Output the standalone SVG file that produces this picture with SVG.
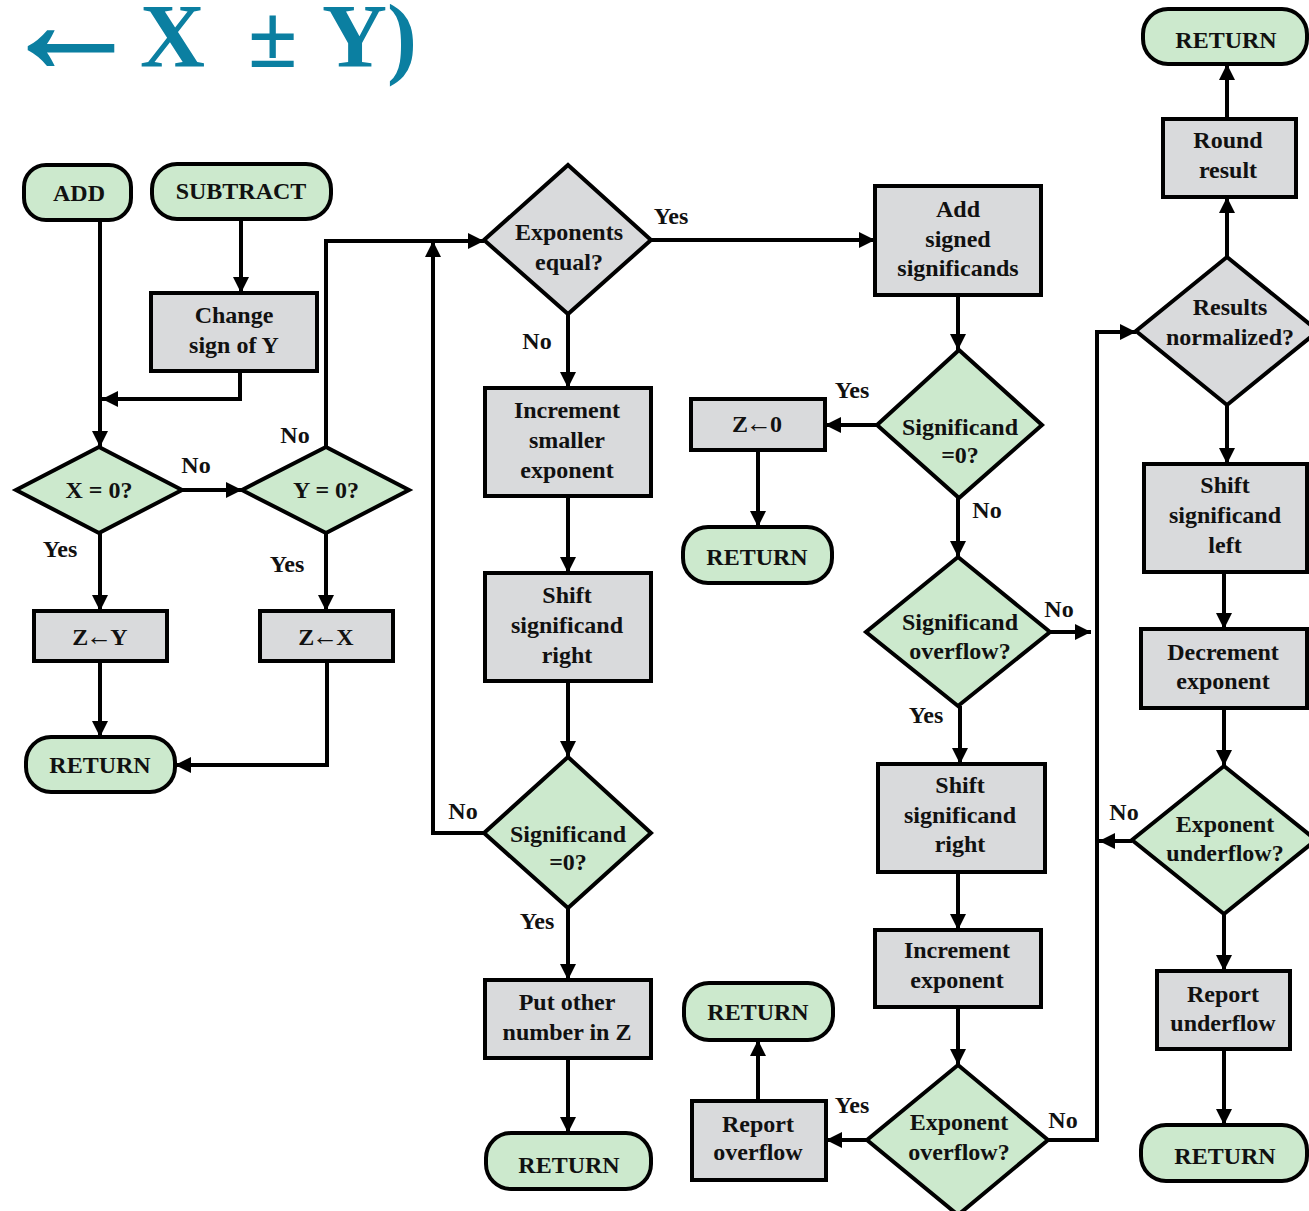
<svg xmlns="http://www.w3.org/2000/svg" width="1309" height="1211" viewBox="0 0 1309 1211">
  <defs>
    <marker id="arrow" markerUnits="userSpaceOnUse" markerWidth="18" markerHeight="18" refX="16" refY="8" orient="auto">
      <path d="M0,0 L16,8 L0,16 z" fill="#000"/>
    </marker>
    <style>
      .term { fill: #cce9cd; stroke: #000; stroke-width: 4; }
      .proc { fill: #d9dadc; stroke: #000; stroke-width: 4; }
      .dec  { fill: #cce9cd; stroke: #000; stroke-width: 4; stroke-linejoin: miter; }
      .decg { fill: #d9dadc; stroke: #000; stroke-width: 4; stroke-linejoin: miter; }
      .conn path { fill: none; stroke: #000; stroke-width: 4; marker-end: url(#arrow); }
      text { font-family: "Liberation Serif", "Times New Roman", serif; font-weight: bold; font-size: 24px; fill: #111; text-anchor: middle; }
      .lbl { font-size: 24px; }
      .title { font-size: 90px; fill: #0b7fa1; text-anchor: start; }
      .big-arrow { font-size: 142px; fill: #0b7fa1; stroke: #0b7fa1; stroke-width: 2.5; text-anchor: start; }
      .ar { font-size: 26px; }
    </style>
  </defs>
  <rect width="1309" height="1211" fill="#fff"/>

  <!-- heading -->
  <g id="heading">
    <text class="big-arrow" x="0" y="72">←</text>
    <text class="title" x="140" y="67">X</text>
    <text class="title" x="248" y="67">±</text>
    <text class="title" x="322" y="67">Y)</text>
  </g>

  <!-- connectors -->
  <g id="connectors" class="conn">
    <path d="M100,220 V447"/>
    <path d="M241,219 V293"/>
    <path d="M240,371 V399 H102"/>
    <path d="M182,490 H242"/>
    <path d="M100,533 V611"/>
    <path d="M326,533 V611"/>
    <path d="M100,661 V737"/>
    <path d="M327,661 V765 H175"/>
    <path d="M326,447 V241 H484"/>
    <path d="M484,833 H433 V241"/>
    <path d="M651,240 H875"/>
    <path d="M568,314 V388"/>
    <path d="M568,496 V573"/>
    <path d="M568,681 V757"/>
    <path d="M568,908 V980"/>
    <path d="M568,1058 V1133"/>
    <path d="M958,295 V350"/>
    <path d="M877,425 H825"/>
    <path d="M758,450 V527"/>
    <path d="M958,498 V557"/>
    <path d="M1050,632 H1091"/>
    <path d="M960,706 V764"/>
    <path d="M958,872 V930"/>
    <path d="M958,1007 V1065"/>
    <path d="M867,1140 H826"/>
    <path d="M758,1101 V1040"/>
    <path d="M1048,1140 H1097 V332 H1136"/>
    <path d="M1227,257 V197"/>
    <path d="M1227,119 V64"/>
    <path d="M1227,405 V464"/>
    <path d="M1224,572 V629"/>
    <path d="M1224,708 V766"/>
    <path d="M1132,841 H1099"/>
    <path d="M1224,914 V971"/>
    <path d="M1224,1049 V1125"/>
  </g>

  <!-- branch labels -->
  <g id="labels">
    <text class="lbl" x="196" y="473">No</text>
    <text class="lbl" x="295" y="443">No</text>
    <text class="lbl" x="60" y="557">Yes</text>
    <text class="lbl" x="287" y="572">Yes</text>
    <text class="lbl" x="671" y="224">Yes</text>
    <text class="lbl" x="537" y="349">No</text>
    <text class="lbl" x="463" y="819">No</text>
    <text class="lbl" x="537" y="929">Yes</text>
    <text class="lbl" x="852" y="398">Yes</text>
    <text class="lbl" x="987" y="518">No</text>
    <text class="lbl" x="1059" y="617">No</text>
    <text class="lbl" x="926" y="723">Yes</text>
    <text class="lbl" x="852" y="1113">Yes</text>
    <text class="lbl" x="1063" y="1128">No</text>
    <text class="lbl" x="1124" y="820">No</text>
  </g>

  <!-- left column -->
  <g id="add">
    <rect class="term" x="24" y="165" width="107" height="55" rx="22"/>
    <text x="79" y="201">ADD</text>
  </g>
  <g id="subtract">
    <rect class="term" x="152" y="164" width="179" height="55" rx="25"/>
    <text x="241" y="199">SUBTRACT</text>
  </g>
  <g id="change-sign">
    <rect class="proc" x="151" y="293" width="166" height="78"/>
    <text x="234" y="323">Change</text>
    <text x="234" y="353">sign of Y</text>
  </g>
  <g id="x-zero">
    <polygon class="dec" points="99,447 182,490 99,533 16,490"/>
    <text x="99" y="498">X = 0?</text>
  </g>
  <g id="y-zero">
    <polygon class="dec" points="326,447 409,490 326,533 242,490"/>
    <text x="326" y="498">Y = 0?</text>
  </g>
  <g id="z-from-y">
    <rect class="proc" x="34" y="611" width="133" height="50"/>
    <text x="100" y="645">Z<tspan class="ar" dx="-2">←</tspan><tspan dx="-2">Y</tspan></text>
  </g>
  <g id="z-from-x">
    <rect class="proc" x="260" y="611" width="133" height="50"/>
    <text x="326" y="645">Z<tspan class="ar" dx="-2">←</tspan><tspan dx="-2">X</tspan></text>
  </g>
  <g id="return-1">
    <rect class="term" x="26" y="737" width="149" height="55" rx="25"/>
    <text x="100" y="773">RETURN</text>
  </g>

  <!-- alignment column -->
  <g id="exponents-equal">
    <polygon class="decg" points="568,165 651,240 568,314 484,240"/>
    <text x="569" y="240">Exponents</text>
    <text x="569" y="270">equal?</text>
  </g>
  <g id="increment-smaller">
    <rect class="proc" x="485" y="388" width="166" height="108"/>
    <text x="567" y="418">Increment</text>
    <text x="567" y="448">smaller</text>
    <text x="567" y="478">exponent</text>
  </g>
  <g id="shift-right-1">
    <rect class="proc" x="485" y="573" width="166" height="108"/>
    <text x="567" y="603">Shift</text>
    <text x="567" y="633">significand</text>
    <text x="567" y="663">right</text>
  </g>
  <g id="significand-zero-1">
    <polygon class="dec" points="568,757 651,833 568,908 484,833"/>
    <text x="568" y="842">Significand</text>
    <text x="568" y="870">=0?</text>
  </g>
  <g id="put-other">
    <rect class="proc" x="485" y="980" width="166" height="78"/>
    <text x="567" y="1010">Put other</text>
    <text x="567" y="1040">number in Z</text>
  </g>
  <g id="return-2">
    <rect class="term" x="486" y="1133" width="165" height="56" rx="25"/>
    <text x="569" y="1173">RETURN</text>
  </g>

  <!-- addition column -->
  <g id="add-signed">
    <rect class="proc" x="875" y="186" width="166" height="109"/>
    <text x="958" y="217">Add</text>
    <text x="958" y="247">signed</text>
    <text x="958" y="276">significands</text>
  </g>
  <g id="significand-zero-2">
    <polygon class="dec" points="959,350 1042,425 959,498 877,425"/>
    <text x="960" y="435">Significand</text>
    <text x="960" y="463">=0?</text>
  </g>
  <g id="z-zero">
    <rect class="proc" x="691" y="399" width="134" height="51"/>
    <text x="757" y="432">Z<tspan class="ar" dx="-2">←</tspan><tspan dx="-2">0</tspan></text>
  </g>
  <g id="return-3">
    <rect class="term" x="683" y="527" width="149" height="56" rx="25"/>
    <text x="757" y="565">RETURN</text>
  </g>
  <g id="significand-overflow">
    <polygon class="dec" points="958,557 1050,632 958,706 866,632"/>
    <text x="960" y="630">Significand</text>
    <text x="960" y="659">overflow?</text>
  </g>
  <g id="shift-right-2">
    <rect class="proc" x="878" y="764" width="167" height="108"/>
    <text x="960" y="793">Shift</text>
    <text x="960" y="823">significand</text>
    <text x="960" y="852">right</text>
  </g>
  <g id="increment-exponent">
    <rect class="proc" x="875" y="930" width="166" height="77"/>
    <text x="957" y="958">Increment</text>
    <text x="957" y="988">exponent</text>
  </g>
  <g id="exponent-overflow">
    <polygon class="dec" points="958,1065 1048,1140 958,1215 867,1140"/>
    <text x="959" y="1130">Exponent</text>
    <text x="959" y="1160">overflow?</text>
  </g>
  <g id="report-overflow">
    <rect class="proc" x="692" y="1101" width="134" height="79"/>
    <text x="758" y="1132">Report</text>
    <text x="758" y="1160">overflow</text>
  </g>
  <g id="return-4">
    <rect class="term" x="684" y="983" width="149" height="57" rx="25"/>
    <text x="758" y="1020">RETURN</text>
  </g>

  <!-- normalization column -->
  <g id="return-5">
    <rect class="term" x="1143" y="9" width="164" height="55" rx="25"/>
    <text x="1226" y="48">RETURN</text>
  </g>
  <g id="round-result">
    <rect class="proc" x="1163" y="119" width="133" height="78"/>
    <text x="1228" y="148">Round</text>
    <text x="1228" y="178">result</text>
  </g>
  <g id="results-normalized">
    <polygon class="decg" points="1227,257 1318,331 1227,405 1136,331"/>
    <text x="1230" y="315">Results</text>
    <text x="1230" y="345">normalized?</text>
  </g>
  <g id="shift-left">
    <rect class="proc" x="1144" y="464" width="163" height="108"/>
    <text x="1225" y="493">Shift</text>
    <text x="1225" y="523">significand</text>
    <text x="1225" y="553">left</text>
  </g>
  <g id="decrement-exponent">
    <rect class="proc" x="1141" y="629" width="166" height="79"/>
    <text x="1223" y="660">Decrement</text>
    <text x="1223" y="689">exponent</text>
  </g>
  <g id="exponent-underflow">
    <polygon class="dec" points="1224,766 1316,840 1224,914 1132,840"/>
    <text x="1225" y="832">Exponent</text>
    <text x="1225" y="861">underflow?</text>
  </g>
  <g id="report-underflow">
    <rect class="proc" x="1157" y="971" width="133" height="78"/>
    <text x="1223" y="1002">Report</text>
    <text x="1223" y="1031">underflow</text>
  </g>
  <g id="return-6">
    <rect class="term" x="1141" y="1125" width="166" height="56" rx="25"/>
    <text x="1225" y="1164">RETURN</text>
  </g>
</svg>
